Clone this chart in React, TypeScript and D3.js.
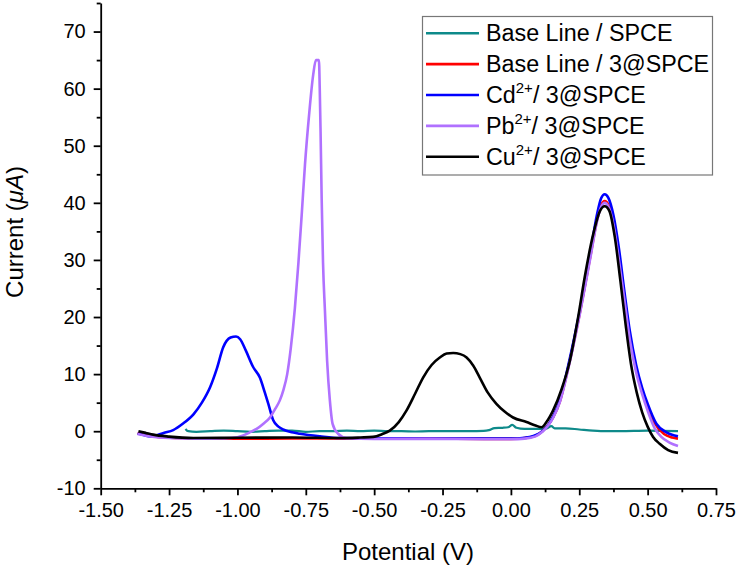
import * as d3 from "d3";
import { useEffect, useRef } from "react";

// potential (V) vs current (uA)
const baseSpce: [number, number][] = [
  [-1.19, 0.4], [-1.18, 0.0], [-1.15, -0.1], [-1.1, 0.0], [-1.05, 0.1], [-1.0, 0.0],
  [-0.95, -0.1], [-0.9, 0.0], [-0.85, 0.1], [-0.8, 0.1], [-0.75, -0.1], [-0.7, 0.0],
  [-0.65, 0.0], [-0.6, 0.1], [-0.55, 0.0], [-0.5, 0.1], [-0.45, 0.0], [-0.4, 0.0],
  [-0.35, -0.05], [-0.3, 0.0], [-0.25, 0.0], [-0.2, 0.0], [-0.15, 0.0], [-0.1, 0.05],
  [-0.08, 0.2], [-0.06, 0.55], [-0.03, 0.6], [-0.01, 0.7], [0.005, 1.1], [0.02, 0.6],
  [0.05, 0.4], [0.1, 0.4], [0.13, 0.5], [0.148, 0.9], [0.16, 0.5], [0.2, 0.5],
  [0.25, 0.3], [0.3, 0.1], [0.35, 0.0], [0.4, 0.0], [0.5, 0.1], [0.611, 0.0],
];

const baseModified: [number, number][] = [
  [-1.365, -0.3], [-1.33, -0.7], [-1.29, -1.0], [-1.22, -1.2], [-1.1, -1.3], [-0.9, -1.3],
  [-0.7, -1.25], [-0.5, -1.3], [-0.3, -1.3], [-0.1, -1.35], [0.0, -1.35], [0.05, -1.2],
  [0.09, -0.8], [0.115, 0.0], [0.135, 1.0], [0.155, 2.5], [0.179, 5.2], [0.21, 11.2],
  [0.252, 20.7], [0.29, 30.5], [0.315, 37], [0.33, 39.6], [0.343, 40.3], [0.356, 39.7],
  [0.375, 36.5], [0.395, 30.5], [0.415, 23.5], [0.435, 16.5], [0.458, 10.8], [0.48, 7.0],
  [0.5, 4.3], [0.525, 1.5], [0.56, -0.5], [0.59, -1.1], [0.611, -1.3],
];

const cdCurve: [number, number][] = [
  [-1.365, -0.4], [-1.34, -0.7], [-1.32, -0.9], [-1.3, -0.8], [-1.27, -0.3], [-1.235, 0.2],
  [-1.2, 1.3], [-1.16, 3.0], [-1.13, 5.0], [-1.1, 7.7], [-1.075, 11.0], [-1.052, 14.7],
  [-1.025, 16.4], [-1.005, 16.6], [-0.99, 16.1], [-0.97, 14.2], [-0.942, 11.2], [-0.918, 9.4],
  [-0.9, 6.8], [-0.887, 4.8], [-0.869, 1.9], [-0.85, 0.8], [-0.833, 0.3], [-0.8, -0.2],
  [-0.772, -0.45], [-0.698, -0.9], [-0.625, -1.2], [-0.5, -1.25], [-0.3, -1.3], [-0.1, -1.3],
  [0.0, -1.3], [0.05, -1.15], [0.09, -0.7], [0.115, 0.0], [0.135, 1.0], [0.155, 2.6],
  [0.179, 5.4], [0.21, 11.6], [0.252, 21.1], [0.27, 25.5], [0.29, 31], [0.315, 38],
  [0.33, 40.8], [0.343, 41.5], [0.356, 40.9], [0.375, 37.8], [0.395, 32], [0.415, 24.5],
  [0.435, 17.5], [0.458, 11.6], [0.48, 7.6], [0.5, 4.8], [0.532, 1.3], [0.569, -0.2],
  [0.611, -0.9],
];

const pbCurve: [number, number][] = [
  [-1.365, -0.5], [-1.32, -0.9], [-1.25, -1.2], [-1.15, -1.3], [-1.05, -1.25], [-1.0, -1.05],
  [-0.979, -0.75], [-0.955, -0.2], [-0.93, 0.4], [-0.905, 1.3], [-0.881, 2.4], [-0.862, 3.9],
  [-0.845, 5.4], [-0.832, 7.2], [-0.818, 10.0], [-0.805, 14.5], [-0.79, 21.5], [-0.777, 29.5],
  [-0.765, 37.9], [-0.753, 46.7], [-0.738, 55.4], [-0.723, 62.4], [-0.713, 65], [-0.702, 65],
  [-0.699, 60], [-0.696, 52.5], [-0.692, 40.8], [-0.687, 29.5], [-0.68, 21.1], [-0.672, 12.3],
  [-0.662, 5.4], [-0.652, 1.3], [-0.632, -0.45], [-0.601, -1.2], [-0.5, -1.35], [-0.3, -1.35],
  [-0.1, -1.4], [0.0, -1.4], [0.05, -1.3], [0.09, -0.9], [0.115, -0.1], [0.135, 0.9],
  [0.155, 2.4], [0.179, 5.1], [0.21, 11], [0.252, 20.5], [0.29, 30.2], [0.315, 36.8],
  [0.33, 39.3], [0.343, 40], [0.356, 39.4], [0.375, 36.2], [0.395, 30], [0.415, 23],
  [0.435, 16], [0.458, 10.3], [0.48, 6.5], [0.5, 3.6], [0.525, 0.6], [0.55, -1.0],
  [0.58, -2.0], [0.611, -2.6],
];

const cuCurve: [number, number][] = [
  [-1.362, 0.0], [-1.335, -0.3], [-1.308, -0.6], [-1.25, -0.95], [-1.161, -1.2], [-1.0, -1.15],
  [-0.8, -1.1], [-0.625, -1.2], [-0.55, -1.1], [-0.504, -1.0], [-0.47, -0.5], [-0.443, 0.1],
  [-0.41, 1.6], [-0.382, 3.6], [-0.35, 6.6], [-0.321, 9.4], [-0.29, 11.6], [-0.26, 12.9],
  [-0.235, 13.6], [-0.211, 13.7], [-0.185, 13.5], [-0.162, 12.9], [-0.138, 11.5], [-0.114, 9.4],
  [-0.085, 6.8], [-0.053, 4.8], [-0.022, 3.4], [0.008, 2.4], [0.057, 1.6], [0.09, 1.0],
  [0.112, 0.7], [0.13, 1.6], [0.154, 3.6], [0.185, 7.3], [0.215, 12.2], [0.246, 20],
  [0.27, 27], [0.3, 34.3], [0.325, 38.5], [0.343, 39.4], [0.36, 38.6], [0.38, 34],
  [0.4, 26.5], [0.42, 18.5], [0.44, 11.5], [0.46, 6.8], [0.48, 3.3], [0.5, 0.8],
  [0.52, -1.0], [0.544, -2.2], [0.575, -3.3], [0.611, -3.8],
];

const seriesColors = ["#0e8a8a", "#ff0000", "#0000ff", "#b071ff", "#000000"];
// [main text, superscript, rest]
const legendLabels: [string, string, string][] = [
  ["Base Line / SPCE", "", ""],
  ["Base Line / 3@SPCE", "", ""],
  ["Cd", "2+", "/ 3@SPCE"],
  ["Pb", "2+", "/ 3@SPCE"],
  ["Cu", "2+", "/ 3@SPCE"],
];

const potentialTicks = [-1.5, -1.25, -1.0, -0.75, -0.5, -0.25, 0, 0.25, 0.5, 0.75];
const currentTicks = [-10, 0, 10, 20, 30, 40, 50, 60, 70];

const FONT = "'Liberation Sans', Arial, sans-serif";

export default function App() {
  const svgRef = useRef(null);

  useEffect(() => {
    const W = 737;
    const H = 566;
    const svg = d3.select(svgRef.current).attr("width", W).attr("height", H);
    svg.selectAll("*").remove();

    const x = d3.scaleLinear().domain([-1.5, 0.75]).range([100.7, 716]);
    const y = d3.scaleLinear().domain([-10, 75]).range([488.3, 3]);

    const minorX = potentialTicks.slice(0, -1).map((t) => t + 0.125);
    const minorY = currentTicks.map((t) => t + 5);

    // minor ticks first
    svg
      .append("g")
      .attr("transform", `translate(0,${y(-10)})`)
      .call(d3.axisBottom(x).tickValues(minorX).tickSize(4).tickSizeOuter(0).tickFormat(() => ""))
      .call((g) => g.select(".domain").remove())
      .call((g) => g.selectAll("line").attr("stroke-width", 1.8));
    svg
      .append("g")
      .attr("transform", `translate(${x(-1.5)},0)`)
      .call(d3.axisLeft(y).tickValues(minorY).tickSize(4).tickSizeOuter(0).tickFormat(() => ""))
      .call((g) => g.select(".domain").remove())
      .call((g) => g.selectAll("line").attr("stroke-width", 1.8));

    const xAxis = svg
      .append("g")
      .attr("transform", `translate(0,${y(-10)})`)
      .call(
        d3
          .axisBottom(x)
          .tickValues(potentialTicks)
          .tickSize(7)
          .tickSizeOuter(0)
          .tickPadding(8)
          .tickFormat((d) => (+d).toFixed(2))
      );
    xAxis.select(".domain").attr("stroke-width", 1.8);
    xAxis.selectAll("line").attr("stroke-width", 1.8);
    xAxis.selectAll("text").attr("font-family", FONT).attr("font-size", 20).attr("fill", "#000");

    const yAxis = svg
      .append("g")
      .attr("transform", `translate(${x(-1.5)},0)`)
      .call(
        d3
          .axisLeft(y)
          .tickValues(currentTicks)
          .tickSize(7)
          .tickSizeOuter(0)
          .tickPadding(8)
          .tickFormat((d) => String(d))
      );
    yAxis.select(".domain").attr("stroke-width", 1.8);
    yAxis.selectAll("line").attr("stroke-width", 1.8);
    yAxis.selectAll("text").attr("font-family", FONT).attr("font-size", 20).attr("fill", "#000");

    // axis titles
    svg
      .append("text")
      .attr("x", 408)
      .attr("y", 560)
      .attr("text-anchor", "middle")
      .attr("font-family", FONT)
      .attr("font-size", 24)
      .text("Potential (V)");

    const yTitle = svg
      .append("text")
      .attr("transform", "translate(23,232) rotate(-90)")
      .attr("text-anchor", "middle")
      .attr("font-family", FONT)
      .attr("font-size", 24);
    yTitle.append("tspan").text("Current (");
    yTitle.append("tspan").attr("font-style", "italic").text("\u03bcA");
    yTitle.append("tspan").text(")");

    // curves
    const line = d3
      .line<[number, number]>()
      .x((d) => x(d[0]))
      .y((d) => y(d[1]))
      .curve(d3.curveMonotoneX);

    const allSeries = [baseSpce, baseModified, cdCurve, pbCurve, cuCurve];
    svg
      .append("g")
      .selectAll("path")
      .data(allSeries)
      .enter()
      .append("path")
      .attr("d", (d) => line(d))
      .attr("fill", "none")
      .attr("stroke", (_, i) => seriesColors[i])
      .attr("stroke-width", (_, i) => (i === 0 ? 2.2 : 2.6))
      .attr("stroke-linejoin", "round");

    // legend
    const lg = svg.append("g");
    lg.append("rect")
      .attr("x", 422.5)
      .attr("y", 16.5)
      .attr("width", 290)
      .attr("height", 158.5)
      .attr("fill", "#fff")
      .attr("stroke", "#777")
      .attr("stroke-width", 1.2);

    legendLabels.forEach((lab, i) => {
      const cy = 33.3 + i * 30.85;
      lg.append("line")
        .attr("x1", 426)
        .attr("x2", 479)
        .attr("y1", cy)
        .attr("y2", cy)
        .attr("stroke", seriesColors[i])
        .attr("stroke-width", 2.6);
      const t = lg
        .append("text")
        .attr("x", 486)
        .attr("y", cy + 8)
        .attr("font-family", FONT)
        .attr("font-size", 23.3);
      t.append("tspan").text(lab[0]);
      if (lab[1]) {
        t.append("tspan").attr("font-size", 15).attr("dy", -10).text(lab[1]);
        t.append("tspan").attr("dy", 10).text(lab[2]);
      }
    });
  }, []);

  return (
    <svg
      ref={svgRef}
      style={{ position: "absolute", left: 0, top: 0, display: "block", background: "#fff" }}
    ></svg>
  );
}
